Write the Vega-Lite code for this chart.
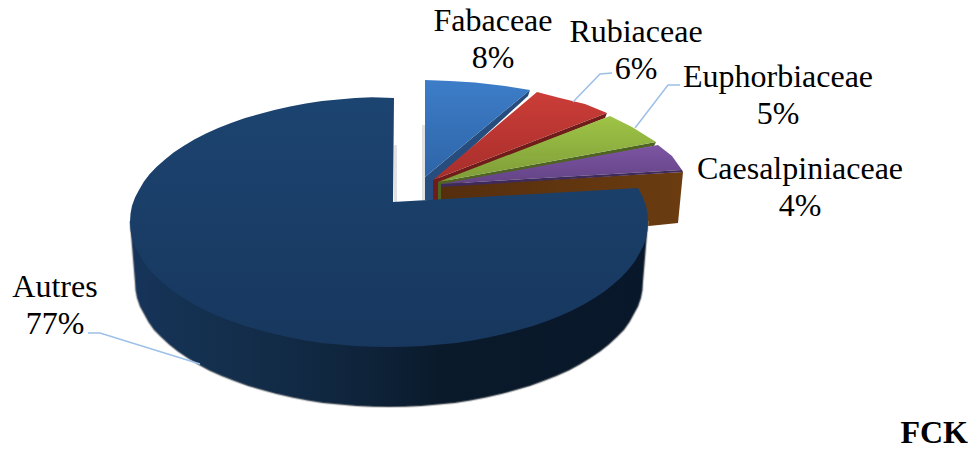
{"$schema":"https://vega.github.io/schema/vega-lite/v6.json","width":977,"height":450,"padding":0,"autosize":"none","background":"white","view":{"stroke":null},"projection":{"type":"identity","scale":100,"translate":[0,0]},"datasets":{"parts":[
{"type":"Feature","properties":{"part":"gapA"},"geometry":{"type":"Polygon","coordinates":[[[4.22,1.25],[4.25,1.25],[4.25,2.0],[4.22,2.0],[4.22,1.25]]]}},
{"type":"Feature","properties":{"part":"gapB"},"geometry":{"type":"Polygon","coordinates":[[[3.94,1.45],[3.97,1.45],[3.97,2.02],[3.94,2.02],[3.94,1.45]]]}},
{"type":"Feature","properties":{"part":"caesSide"},"geometry":{"type":"Polygon","coordinates":[[[4.41,1.86],[6.83,1.72],[6.78,2.23],[6.49,2.26],[4.41,2.0],[4.41,1.86]]]}},
{"type":"Feature","properties":{"part":"fabSide"},"geometry":{"type":"Polygon","coordinates":[[[5.3,0.9],[5.28,0.96],[4.33,1.83],[4.33,2.0],[4.25,2.0],[4.25,1.77],[5.3,0.9]]]}},
{"type":"Feature","properties":{"part":"fab","share":0.08},"geometry":{"type":"Polygon","coordinates":[[[4.25,0.8],[4.5,0.81],[4.75,0.825],[5.05,0.86],[5.3,0.9],[4.25,1.77],[4.25,0.8]]]}},
{"type":"Feature","properties":{"part":"rubSide"},"geometry":{"type":"Polygon","coordinates":[[[6.07,1.13],[6.05,1.18],[4.38,1.84],[4.38,2.0],[4.33,2.0],[4.33,1.8],[6.07,1.13]]]}},
{"type":"Feature","properties":{"part":"rub","share":0.06},"geometry":{"type":"Polygon","coordinates":[[[4.33,1.8],[5.37,0.92],[5.6,0.98],[5.85,1.04],[6.07,1.13],[4.33,1.8]]]}},
{"type":"Feature","properties":{"part":"eupSide"},"geometry":{"type":"Polygon","coordinates":[[[6.56,1.42],[6.54,1.46],[4.41,1.87],[4.41,2.0],[4.38,2.0],[4.38,1.82],[6.56,1.42]]]}},
{"type":"Feature","properties":{"part":"eup","share":0.05},"geometry":{"type":"Polygon","coordinates":[[[4.38,1.82],[6.1,1.16],[6.32,1.27],[6.56,1.42],[4.38,1.82]]]}},
{"type":"Feature","properties":{"part":"caesEdge"},"geometry":{"type":"Polygon","coordinates":[[[6.82,1.7],[6.83,1.72],[4.41,1.87],[4.41,1.84],[6.82,1.7]]]}},
{"type":"Feature","properties":{"part":"caes","share":0.04},"geometry":{"type":"Polygon","coordinates":[[[4.41,1.84],[6.58,1.45],[6.72,1.56],[6.82,1.7],[4.41,1.84]]]}},
{"type":"Feature","properties":{"part":"autresSide"},"geometry":{"type":"Polygon","coordinates":[[[1.3,2.22],[1.35,2.82],[1.355,2.902],[1.37,2.98],[1.399,3.064],[1.44,3.14],[1.485,3.222],[1.54,3.3],[1.612,3.373],[1.69,3.445],[1.778,3.515],[1.875,3.58],[1.98,3.644],[2.09,3.704],[2.215,3.76],[2.344,3.81],[2.479,3.859],[2.62,3.9],[2.767,3.941],[2.92,3.975],[3.074,4.004],[3.23,4.03],[3.394,4.046],[3.56,4.06],[3.724,4.067],[3.89,4.07],[4.056,4.067],[4.22,4.06],[4.386,4.046],[4.55,4.03],[4.706,4.004],[4.86,3.975],[5.013,3.941],[5.16,3.9],[5.301,3.859],[5.436,3.81],[5.565,3.76],[5.69,3.704],[5.8,3.644],[5.905,3.58],[6.002,3.515],[6.09,3.445],[6.168,3.373],[6.24,3.3],[6.295,3.222],[6.34,3.14],[6.381,3.064],[6.41,2.98],[6.425,2.902],[6.43,2.82],[6.48,2.22],[1.3,2.22]]]}},
{"type":"Feature","properties":{"part":"autres","share":0.77},"geometry":{"type":"Polygon","coordinates":[[[3.94,0.98],[3.721,0.973],[3.55,0.98],[3.385,0.994],[3.22,1.01],[3.058,1.036],[2.9,1.065],[2.744,1.099],[2.595,1.14],[2.451,1.181],[2.31,1.23],[2.182,1.28],[2.06,1.336],[1.943,1.396],[1.835,1.46],[1.736,1.525],[1.65,1.595],[1.567,1.667],[1.497,1.74],[1.438,1.818],[1.39,1.9],[1.35,1.976],[1.32,2.057],[1.305,2.138],[1.3,2.22],[1.305,2.302],[1.32,2.383],[1.35,2.464],[1.39,2.54],[1.438,2.622],[1.497,2.7],[1.567,2.773],[1.65,2.845],[1.736,2.915],[1.835,2.98],[1.943,3.044],[2.06,3.104],[2.182,3.16],[2.31,3.21],[2.451,3.259],[2.595,3.3],[2.744,3.341],[2.9,3.375],[3.058,3.404],[3.22,3.43],[3.385,3.446],[3.55,3.46],[3.721,3.467],[3.89,3.47],[4.059,3.467],[4.23,3.46],[4.395,3.446],[4.56,3.43],[4.722,3.404],[4.88,3.375],[5.036,3.341],[5.185,3.3],[5.329,3.259],[5.47,3.21],[5.598,3.16],[5.72,3.104],[5.837,3.044],[5.945,2.98],[6.044,2.915],[6.13,2.845],[6.213,2.773],[6.28,2.7],[6.342,2.622],[6.39,2.54],[6.43,2.464],[6.46,2.383],[6.475,2.302],[6.48,2.22],[6.475,2.138],[6.46,2.057],[6.43,1.976],[6.38,1.88],[3.93,2.02],[3.94,0.98]]]}},
{"type":"Feature","properties":{"part":"leader"},"geometry":{"type":"LineString","coordinates":[[6.12,0.73],[6.0,0.74],[5.73,1.02]]}},
{"type":"Feature","properties":{"part":"leader"},"geometry":{"type":"LineString","coordinates":[[6.8,0.85],[6.68,0.85],[6.35,1.28]]}},
{"type":"Feature","properties":{"part":"leader"},"geometry":{"type":"LineString","coordinates":[[0.88,3.33],[1.0,3.33],[2.0,3.64]]}}
],"labels":[
{"family":"Fabaceae","share":0.08,"x":4.93,"y":0.31},
{"family":"Rubiaceae","share":0.06,"x":6.36,"y":0.42},
{"family":"Euphorbiaceae","share":0.05,"x":7.78,"y":0.87},
{"family":"Caesalpiniaceae","share":0.04,"x":8.0,"y":1.79},
{"family":"Autres","share":0.77,"x":0.55,"y":2.97}
]},
"layer":[
{"data":{"name":"parts"},"transform":[{"filter":"datum.properties.part==='gapA'||datum.properties.part==='gapB'"}],"mark":{"type":"geoshape","fill":"#e2e2e2","stroke":null},"encoding":{}},
{"data":{"name":"parts"},"transform":[{"filter":"datum.properties.part==='caesSide'"}],"mark":{"type":"geoshape","stroke":null,"fill":{"gradient":"linear","x1":0,"y1":0,"x2":1,"y2":0,"stops":[{"offset":0,"color":"#552e0e"},{"offset":1,"color":"#6b3c10"}]}},"encoding":{}},
{"data":{"name":"parts"},"transform":[{"filter":"datum.properties.part==='fabSide'"}],"mark":{"type":"geoshape","fill":"#264d7d","stroke":null},"encoding":{}},
{"data":{"name":"parts"},"transform":[{"filter":"datum.properties.part==='fab'"}],"mark":{"type":"geoshape","stroke":null,"fill":{"gradient":"linear","x1":0,"y1":0,"x2":0,"y2":1,"stops":[{"offset":0,"color":"#3d7dc8"},{"offset":1,"color":"#2e65a8"}]}},"encoding":{}},
{"data":{"name":"parts"},"transform":[{"filter":"datum.properties.part==='rubSide'"}],"mark":{"type":"geoshape","fill":"#6f1c1a","stroke":null},"encoding":{}},
{"data":{"name":"parts"},"transform":[{"filter":"datum.properties.part==='rub'"}],"mark":{"type":"geoshape","stroke":null,"fill":{"gradient":"linear","x1":0,"y1":0,"x2":0,"y2":1,"stops":[{"offset":0,"color":"#cb3d38"},{"offset":1,"color":"#a82e2b"}]}},"encoding":{}},
{"data":{"name":"parts"},"transform":[{"filter":"datum.properties.part==='eupSide'"}],"mark":{"type":"geoshape","fill":"#4f6322","stroke":null},"encoding":{}},
{"data":{"name":"parts"},"transform":[{"filter":"datum.properties.part==='eup'"}],"mark":{"type":"geoshape","stroke":null,"fill":{"gradient":"linear","x1":0,"y1":0,"x2":0,"y2":1,"stops":[{"offset":0,"color":"#9fc446"},{"offset":1,"color":"#7e9c38"}]}},"encoding":{}},
{"data":{"name":"parts"},"transform":[{"filter":"datum.properties.part==='caes'"}],"mark":{"type":"geoshape","stroke":null,"fill":{"gradient":"linear","x1":0,"y1":0,"x2":0,"y2":1,"stops":[{"offset":0,"color":"#7d55a3"},{"offset":1,"color":"#634385"}]}},"encoding":{}},
{"data":{"name":"parts"},"transform":[{"filter":"datum.properties.part==='caesEdge'"}],"mark":{"type":"geoshape","fill":"#3f2a5c","stroke":null},"encoding":{}},
{"data":{"name":"parts"},"transform":[{"filter":"datum.properties.part==='autresSide'"}],"mark":{"type":"geoshape","stroke":"#8f8f8f","strokeWidth":2,"strokeOpacity":0.45,"fill":{"gradient":"linear","x1":0,"y1":0,"x2":1,"y2":0,"stops":[{"offset":0,"color":"#16345a"},{"offset":0.15,"color":"#14304f"},{"offset":0.4,"color":"#10263f"},{"offset":0.6,"color":"#0a1a2b"},{"offset":1,"color":"#08182a"}]}},"encoding":{}},
{"data":{"name":"parts"},"transform":[{"filter":"datum.properties.part==='leader'"}],"mark":{"type":"geoshape","filled":false,"fill":null,"stroke":"#9cc0e8","strokeWidth":1.5},"encoding":{}},
{"data":{"name":"parts"},"transform":[{"filter":"datum.properties.part==='autres'"}],"mark":{"type":"geoshape","stroke":null,"fill":{"gradient":"linear","x1":0,"y1":0,"x2":0,"y2":1,"stops":[{"offset":0,"color":"#1c4470"},{"offset":1,"color":"#17375e"}]}},"encoding":{}},
{"data":{"name":"labels"},"mark":{"type":"text","font":"Liberation Serif","fontSize":32,"align":"center","baseline":"alphabetic","color":"#000000"},"encoding":{"longitude":{"field":"x","type":"quantitative"},"latitude":{"field":"y","type":"quantitative"},"text":{"field":"family","type":"nominal"}}},
{"data":{"name":"labels"},"mark":{"type":"text","font":"Liberation Serif","fontSize":32,"align":"center","baseline":"alphabetic","color":"#000000","dy":37},"encoding":{"longitude":{"field":"x","type":"quantitative"},"latitude":{"field":"y","type":"quantitative"},"text":{"field":"share","type":"quantitative","format":".0%"}}},
{"data":{"values":[{"note":"FCK","x":9.68,"y":4.43}]},"mark":{"type":"text","font":"Liberation Serif","fontSize":32,"fontWeight":"bold","align":"right","baseline":"alphabetic","color":"#000000"},"encoding":{"longitude":{"field":"x","type":"quantitative"},"latitude":{"field":"y","type":"quantitative"},"text":{"field":"note","type":"nominal"}}}
]}
